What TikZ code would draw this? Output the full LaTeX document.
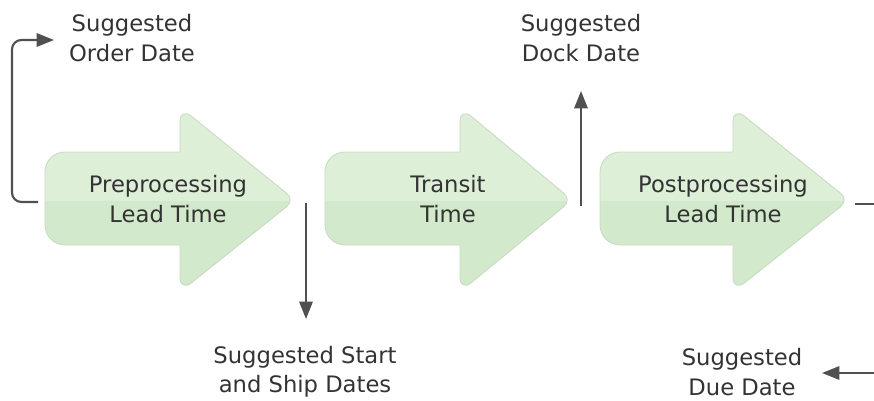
\documentclass[tikz,border=0pt]{standalone}
\usepackage{fontspec}
\setmainfont{DejaVu Sans}
\usetikzlibrary{arrows.meta}
\definecolor{topgreen}{HTML}{DEEFD8}
\definecolor{botgreen}{HTML}{D3E9CB}
\definecolor{edgegray}{HTML}{C8D8C2}
\definecolor{linegray}{HTML}{505050}
\definecolor{txtgray}{HTML}{333333}
\newcommand{\bigarrowpath}[3]{(#2,152) [rounded corners=11] -- (#2,107) [rounded corners=8] -- (#3,200) [rounded corners=11] -- (#2,292) [sharp corners] -- (#2,245) [rounded corners=15] -- (#1,245) -- (#1,152) [sharp corners] -- cycle}
\tikzset{
  lbl/.style={text=txtgray, align=center, font=\fontsize{17}{22}\selectfont, inner sep=0pt},
  conn/.style={draw=linegray, line width=1.6pt, -{Triangle[length=13pt,width=10pt]}},
  plainconn/.style={draw=linegray, line width=1.6pt},
  arrowfill/.style={path picture={
     \fill[topgreen] (path picture bounding box.north west) rectangle ([yshift=-1pt]path picture bounding box.east);
     \fill[botgreen] ([yshift=-1pt]path picture bounding box.west) rectangle (path picture bounding box.south east);}},
}
\begin{document}
\begin{tikzpicture}[x=0.75pt,y=-0.75pt]
\useasboundingbox (0,0) rectangle (874,400);
% big arrows
\path[arrowfill, draw=edgegray, line width=0.6pt] \bigarrowpath{45}{180}{295};
\path[arrowfill, draw=edgegray, line width=0.6pt] \bigarrowpath{325}{460}{572};
\path[arrowfill, draw=edgegray, line width=0.6pt] \bigarrowpath{600}{733}{849};
% texts in arrows
\node[lbl] (pre) at (168,199) {Preprocessing\\Lead Time};
\node[lbl] (tra) at (448,199) {Transit\\Time};
\node[lbl] (post) at (723,199) {Postprocessing\\Lead Time};
% outer labels
\node[lbl] (ord) at (132,38) {Suggested\\Order Date};
\node[lbl] (dock) at (581,38) {Suggested\\Dock Date};
\node[lbl] (ship) at (305,372) {Suggested Start\\and Ship Dates};
\node[lbl] (due) at (742,372) {Suggested\\Due Date};
% connector coordinates
\coordinate (c1s) at (38,202);
\coordinate (c1e) at (54,40);
\coordinate (c2s) at (306,203);
\coordinate (c2e) at (306,319);
\coordinate (c3s) at (581,206);
\coordinate (c3e) at (581,91);
\coordinate (c4s) at (855,204);
\coordinate (c4e) at (874,204);
\coordinate (c5s) at (874,373);
\coordinate (c5e) at (822,373);
% connectors
\draw[conn, rounded corners=7] (c1s) -| (12,120) |- (c1e);
\draw[conn] (c2s) -- (c2e);
\draw[conn] (c3s) -- (c3e);
\draw[plainconn] (c4s) -- (c4e);
\draw[conn] (c5s) -- (c5e);
\end{tikzpicture}
\end{document}
